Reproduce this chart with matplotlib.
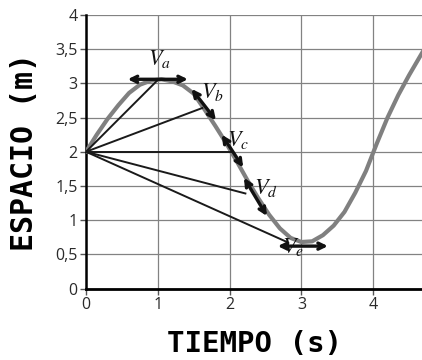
import numpy as np
import matplotlib
matplotlib.use("Agg")
import matplotlib.pyplot as plt

# curve (tiempo, espacio)
tiempo = [0, 0.15, 0.3, 0.45, 0.6, 0.75, 0.9, 1.05, 1.2, 1.35, 1.5, 1.65,
          1.8, 1.95, 2.1, 2.25, 2.4, 2.55, 2.7, 2.85, 3.0, 3.15, 3.3, 3.45,
          3.6, 3.75, 3.9, 4.05, 4.2, 4.35, 4.5, 4.7]
espacio = [2.0, 2.25, 2.48, 2.68, 2.86, 2.98, 3.04, 3.06, 3.03, 2.97, 2.85, 2.62,
           2.38, 2.13, 1.86, 1.58, 1.32, 1.08, 0.88, 0.74, 0.68, 0.69, 0.78, 0.92,
           1.12, 1.40, 1.72, 2.12, 2.5, 2.83, 3.12, 3.48]

origen = (0, 2)
# secant end points
sec_t = [1.0, 1.62, 2.02, 2.22, 2.8]
sec_s = [3.05, 2.64, 2.0, 1.39, 0.68]

# tangent arrows: (t0, s0, t1, s1)
vel_names = ["a", "b", "c", "d", "e"]
vel_arrows = [(0.58, 3.06, 1.42, 3.06),
              (1.47, 2.92, 1.81, 2.46),
              (1.89, 2.25, 2.19, 1.77),
              (2.2, 1.62, 2.52, 1.06),
              (2.67, 0.62, 3.37, 0.62)]
vel_label_pos = [(1.03, 3.36), (1.76, 2.88), (2.12, 2.17), (2.51, 1.47), (2.89, 0.6)]

plt.rcParams['mathtext.fontset'] = 'stix'

fig = plt.figure(figsize=(4.22, 3.6), dpi=100)
ax = fig.add_axes([0.2038, 0.1986, 0.7962, 0.7597])

ax.set_xlim(0, 4.68)
ax.set_ylim(0, 4)
ax.set_xticks([0, 1, 2, 3, 4])
ax.set_yticks([0, 0.5, 1, 1.5, 2, 2.5, 3, 3.5, 4])
ax.set_yticklabels(["0", "0,5", "1", "1,5", "2", "2,5", "3", "3,5", "4"])
ax.grid(True, color="#828282", lw=0.9)
ax.set_axisbelow(True)
for sp in ["top", "right"]:
    ax.spines[sp].set_visible(False)
ax.spines["left"].set_linewidth(1.8)
ax.spines["bottom"].set_linewidth(2.0)
ax.tick_params(length=4, width=1, color="#555555", labelsize=11.5, pad=2)
for lab in ax.get_xticklabels() + ax.get_yticklabels():
    lab.set_family("Open Sans")
    lab.set_color("#2a2a2a")

ax.plot(tiempo, espacio, color="#808080", lw=3.0, solid_capstyle="round", zorder=3)

for t, s in zip(sec_t, sec_s):
    ax.plot([origen[0], t], [origen[1], s], color="#1a1a1a", lw=1.4, zorder=4)

for (t0, s0, t1, s1) in vel_arrows:
    ax.annotate("", xy=(t1, s1), xytext=(t0, s0),
                arrowprops=dict(arrowstyle="<->, head_length=0.45, head_width=0.22",
                                color="#111111", lw=2.4, shrinkA=0, shrinkB=0),
                zorder=5)

for name, (t, s) in zip(vel_names, vel_label_pos):
    ax.text(t, s, "$V_{%s}$" % name, fontsize=16, ha="center", va="center",
            color="#111111", zorder=6)

ax.set_xlabel("TIEMPO (s)", family="DejaVu Sans Mono", fontweight="bold",
              fontsize=21, labelpad=12)
ax.set_ylabel("ESPACIO (m)", family="DejaVu Sans Mono", fontweight="bold",
              fontsize=21.5, labelpad=12)

fig.savefig("out.png", dpi=100)
